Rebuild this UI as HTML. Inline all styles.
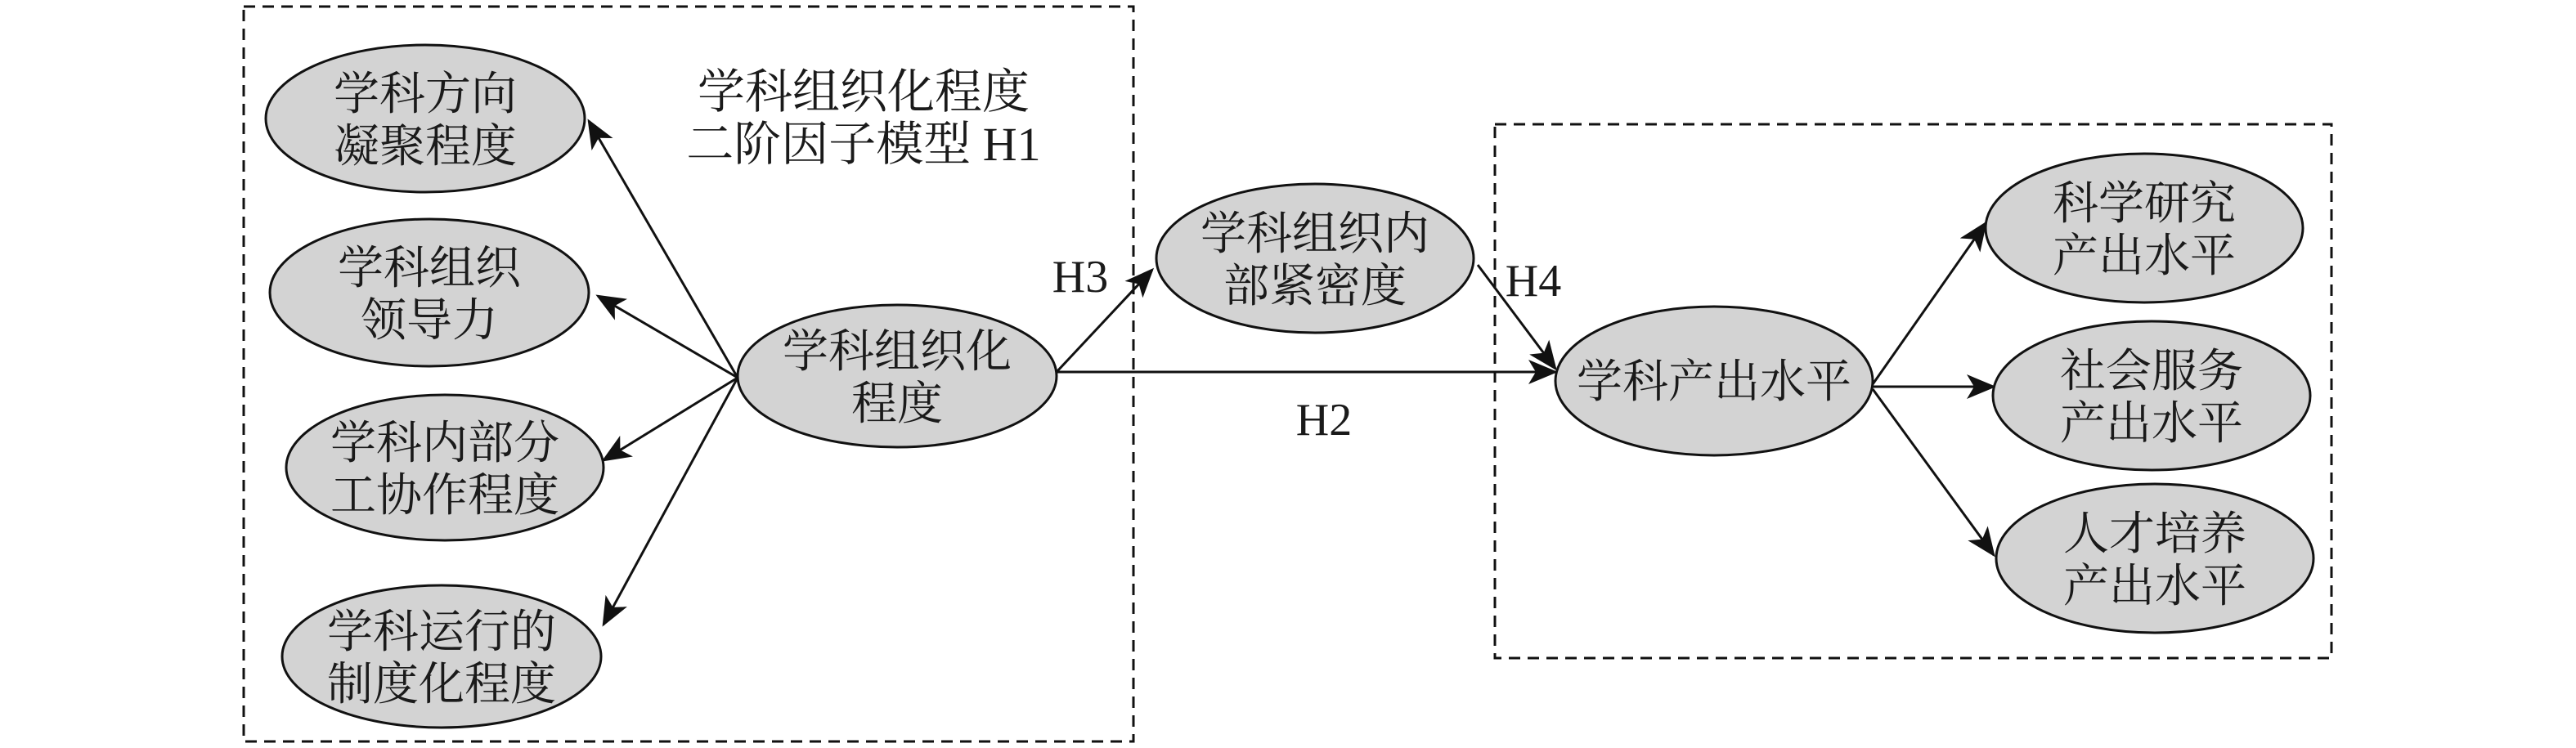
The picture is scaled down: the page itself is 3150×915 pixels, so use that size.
<!DOCTYPE html>
<html><head><meta charset="utf-8"><style>
html,body{margin:0;padding:0;background:#fff;}
svg{display:block}
text{font-family:"Liberation Serif","Noto Serif CJK SC","Noto Sans CJK SC",serif;font-size:56px;fill:#1a1a1a;text-anchor:middle;}
</style></head><body>
<svg width="3150" height="915" viewBox="0 0 3150 915" xmlns="http://www.w3.org/2000/svg">
<defs>
<marker id="b" viewBox="0 0 12 10" refX="11" refY="5" markerWidth="36" markerHeight="30" markerUnits="userSpaceOnUse" orient="auto"><path d="M0,0 L12,5 L0,10 L3,5 z" fill="#111"/></marker></defs>
<g fill="none" stroke="#111" stroke-width="3" stroke-dasharray="14,9">
<rect x="298" y="8" width="1088" height="899"/>
<rect x="1828" y="152" width="1023" height="653"/>
</g>
<g stroke="#111" stroke-width="3" fill="none" marker-end="url(#b)">
<line x1="902" y1="462" x2="720" y2="148"/>
<line x1="902" y1="462" x2="731" y2="362"/>
<line x1="902" y1="462" x2="738" y2="563"/>
<line x1="902" y1="462" x2="738" y2="764"/>
<line x1="1292" y1="455" x2="1409" y2="330"/>
<line x1="1292" y1="455" x2="1902" y2="455"/>
<line x1="1807" y1="324" x2="1902" y2="451"/>
<line x1="2290" y1="470" x2="2428" y2="273"/>
<line x1="2290" y1="473" x2="2438" y2="473"/>
<line x1="2290" y1="476" x2="2438" y2="679"/>
</g>
<g fill="#d3d3d3" stroke="#111" stroke-width="3">
<ellipse cx="520" cy="145" rx="195" ry="90"/>
<ellipse cx="525" cy="358" rx="195" ry="90"/>
<ellipse cx="544" cy="572" rx="194" ry="89"/>
<ellipse cx="540" cy="803" rx="195" ry="87"/>
<ellipse cx="1097" cy="460" rx="195" ry="87"/>
<ellipse cx="1608" cy="316" rx="194" ry="91"/>
<ellipse cx="2096" cy="466" rx="194" ry="91"/>
<ellipse cx="2622" cy="279" rx="194" ry="91"/>
<ellipse cx="2631" cy="484" rx="194" ry="91"/>
<ellipse cx="2635" cy="683" rx="194" ry="91"/>
</g>
<text x="520" y="134">学科方向</text><text x="520" y="198">凝聚程度</text>
<text x="525" y="347">学科组织</text><text x="525" y="411">领导力</text>
<text x="544" y="561">学科内部分</text><text x="544" y="625">工协作程度</text>
<text x="540" y="792">学科运行的</text><text x="540" y="856">制度化程度</text>
<text x="1097" y="449">学科组织化</text><text x="1097" y="513">程度</text>
<text x="1056" y="132" style="font-size:58px">学科组织化程度</text><text x="1056" y="196" style="font-size:58px">二阶因子模型 H1</text>
<text x="1608" y="305">学科组织内</text><text x="1608" y="369">部紧密度</text>
<text x="2096" y="486">学科产出水平</text>
<text x="2622" y="268">科学研究</text><text x="2622" y="332">产出水平</text>
<text x="2631" y="473">社会服务</text><text x="2631" y="537">产出水平</text>
<text x="2635" y="672">人才培养</text><text x="2635" y="736">产出水平</text>
<text x="1321" y="357">H3</text>
<text x="1875" y="362">H4</text>
<text x="1619" y="532">H2</text>
</svg>
</body></html>
